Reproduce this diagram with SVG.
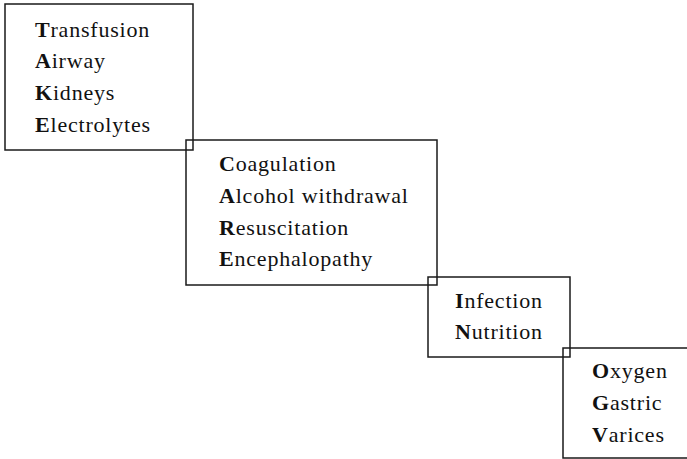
<svg xmlns="http://www.w3.org/2000/svg" width="687" height="459" viewBox="0 0 687 459">
<style>
.box{fill:none;stroke:#1a1a1a;stroke-width:1.5}
.t{font-family:"Liberation Serif","Times New Roman",serif;font-size:22px;letter-spacing:0.8px;fill:#111}
.b{font-weight:bold}
</style>
<rect width="687" height="459" fill="#fff"/>
<g id="connectors"></g>
<g id="box1">
<rect class="box" x="5" y="4" width="188" height="146"/>
<text class="t" x="35" y="37"><tspan class="b">T</tspan>ransfusion</text>
<text class="t" x="35" y="68"><tspan class="b">A</tspan>irway</text>
<text class="t" x="35" y="100"><tspan class="b">K</tspan>idneys</text>
<text class="t" x="35" y="132"><tspan class="b">E</tspan>lectrolytes</text>
</g>
<g id="box2">
<rect class="box" x="186" y="140" width="251" height="145"/>
<text class="t" x="219" y="171"><tspan class="b">C</tspan>oagulation</text>
<text class="t" x="219" y="203"><tspan class="b">A</tspan>lcohol withdrawal</text>
<text class="t" x="219" y="235"><tspan class="b">R</tspan>esuscitation</text>
<text class="t" x="219" y="266"><tspan class="b">E</tspan>ncephalopathy</text>
</g>
<g id="box3">
<rect class="box" x="428" y="277" width="142" height="80"/>
<text class="t" x="455" y="308"><tspan class="b">I</tspan>nfection</text>
<text class="t" x="455" y="339"><tspan class="b">N</tspan>utrition</text>
</g>
<g id="box4">
<rect class="box" x="563" y="348" width="130" height="110"/>
<text class="t" x="592" y="378"><tspan class="b">O</tspan>xygen</text>
<text class="t" x="592" y="410"><tspan class="b">G</tspan>astric</text>
<text class="t" x="592" y="442"><tspan class="b">V</tspan>arices</text>
</g>
</svg>
